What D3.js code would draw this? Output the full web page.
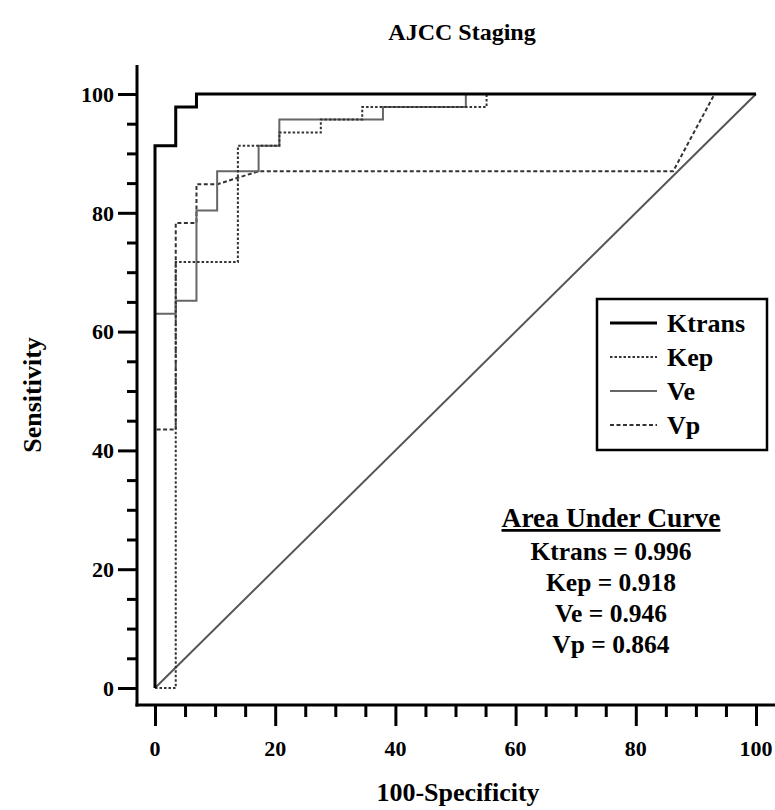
<!DOCTYPE html>
<html>
<head>
<meta charset="utf-8">
<script src="https://cdn.jsdelivr.net/npm/d3@7/dist/d3.min.js"></script>
<style>
	body { margin: 0; background: #fff; }
	text { font-family: "Liberation Serif", "Times New Roman", serif; font-weight: bold; fill: #000; }
</style>
</head>
<body>
<div id="chart"></div>
<script>
// ROC curves, x = 100-specificity, y = sensitivity
var ktransX = [0, 0, 3.45, 3.45, 6.9, 6.9, 100];
var ktransY = [0, 91.3, 91.3, 97.8, 97.8, 100, 100];

var kepX = [0, 3.45, 3.45, 13.79, 13.79, 20.69, 20.69, 27.59, 27.59, 34.48, 34.48, 55.17, 55.17, 100];
var kepY = [0, 0, 71.7, 71.7, 91.3, 91.3, 93.5, 93.5, 95.7, 95.7, 97.8, 97.8, 100, 100];

var veX = [0, 0, 3.45, 3.45, 6.9, 6.9, 10.34, 10.34, 17.24, 17.24, 20.69, 20.69, 37.93, 37.93, 51.72, 51.72, 100];
var veY = [0, 63.0, 63.0, 65.2, 65.2, 80.4, 80.4, 87.0, 87.0, 91.3, 91.3, 95.7, 95.7, 97.8, 97.8, 100, 100];

var vpX = [0, 0, 3.45, 3.45, 6.9, 6.9, 10.34, 17.24, 86.21, 93.10, 100];
var vpY = [0, 43.5, 43.5, 78.3, 78.3, 84.8, 84.8, 87.0, 87.0, 100, 100];

var refX = [0, 100];
var refY = [0, 100];

var seriesNames = ["Ktrans", "Kep", "Ve", "Vp"];
var aucValues = ["0.996", "0.918", "0.946", "0.864"];
var tickValues = [0, 20, 40, 60, 80, 100];

var width = 775,
	height = 810;

var styles = {
	Ktrans: { stroke: "#000", width: 3, dash: null },
	Kep: { stroke: "#333", width: 2, dash: "2.5,2" },
	Ve: { stroke: "#666", width: 2, dash: null },
	Vp: { stroke: "#333", width: 2, dash: "4,2.5" }
};

var x = d3.scaleLinear().domain([0, 100]).range([155, 756]);
var y = d3.scaleLinear().domain([0, 100]).range([688, 94]);

var svg = d3.select("#chart").append("svg")
	.attr("width", width)
	.attr("height", height);

function zip(xs, ys) {
	return xs.map(function(d, i) { return [d, ys[i]]; });
}

var line = d3.line()
	.x(function(d) { return x(d[0]); })
	.y(function(d) { return y(d[1]); });

// axes
var spineLeft = 137,
	spineBottom = 705;

var xAxis = d3.axisBottom(x)
	.tickValues(d3.range(0, 101, 5))
	.tickSize(0)
	.tickFormat("");

var gx = svg.append("g")
	.attr("transform", "translate(0," + spineBottom + ")")
	.call(xAxis);
gx.select(".domain").remove();
gx.selectAll(".tick line")
	.attr("y2", function(d) { return d % 20 === 0 ? 21 : 12; })
	.attr("stroke", "#000")
	.attr("stroke-width", 3);

gx.selectAll(".tick-label")
	.data(tickValues)
	.enter().append("text")
	.attr("x", function(d) { return x(d); })
	.attr("y", 51)
	.attr("text-anchor", "middle")
	.style("font-size", "22px")
	.text(function(d) { return d; });

var yAxis = d3.axisLeft(y)
	.tickValues(d3.range(0, 101, 5))
	.tickSize(0)
	.tickFormat("");

var gy = svg.append("g")
	.attr("transform", "translate(" + spineLeft + ",0)")
	.call(yAxis);
gy.select(".domain").remove();
gy.selectAll(".tick line")
	.attr("x2", function(d) { return d % 20 === 0 ? -19 : -10; })
	.attr("stroke", "#000")
	.attr("stroke-width", 3);

gy.selectAll(".tick-label")
	.data(tickValues)
	.enter().append("text")
	.attr("x", -23)
	.attr("y", function(d) { return y(d); })
	.attr("dy", "0.35em")
	.attr("text-anchor", "end")
	.style("font-size", "22px")
	.text(function(d) { return d; });

svg.append("line")
	.attr("x1", spineLeft).attr("x2", spineLeft)
	.attr("y1", 65).attr("y2", spineBottom + 1.5)
	.attr("stroke", "#000").attr("stroke-width", 3);
svg.append("line")
	.attr("x1", spineLeft - 1.5).attr("x2", width)
	.attr("y1", spineBottom).attr("y2", spineBottom)
	.attr("stroke", "#000").attr("stroke-width", 3);

// curves
svg.append("path")
	.attr("d", line(zip(refX, refY)))
	.attr("fill", "none")
	.attr("stroke", "#555")
	.attr("stroke-width", 2);

var curves = [
	{ name: "Vp", pts: zip(vpX, vpY) },
	{ name: "Ve", pts: zip(veX, veY) },
	{ name: "Kep", pts: zip(kepX, kepY) },
	{ name: "Ktrans", pts: zip(ktransX, ktransY) }
];

svg.selectAll(".curve")
	.data(curves)
	.enter().append("path")
	.attr("class", "curve")
	.attr("d", function(d) { return line(d.pts); })
	.attr("fill", "none")
	.attr("stroke", function(d) { return styles[d.name].stroke; })
	.attr("stroke-width", function(d) { return styles[d.name].width; })
	.attr("stroke-dasharray", function(d) { return styles[d.name].dash; });

// legend
var legend = svg.append("g");
legend.append("rect")
	.attr("x", 597).attr("y", 299)
	.attr("width", 170).attr("height", 151)
	.attr("fill", "#fff")
	.attr("stroke", "#000")
	.attr("stroke-width", 2.5);

var item = legend.selectAll(".item")
	.data(seriesNames)
	.enter().append("g")
	.attr("transform", function(d, i) { return "translate(0," + (323 + i * 34) + ")"; });

item.append("line")
	.attr("x1", 610).attr("x2", 657)
	.attr("stroke", function(d) { return styles[d].stroke; })
	.attr("stroke-width", function(d) { return styles[d].width; })
	.attr("stroke-dasharray", function(d) { return styles[d].dash; });

item.append("text")
	.attr("x", 667)
	.attr("y", 9)
	.style("font-size", "26px")
	.text(function(d) { return d; });

// area under curve
var aucX = 611;
svg.append("text")
	.attr("x", aucX).attr("y", 527)
	.attr("text-anchor", "middle")
	.style("font-size", "27.5px")
	.style("text-decoration", "underline")
	.text("Area Under Curve");

svg.selectAll(".auc")
	.data(seriesNames)
	.enter().append("text")
	.attr("x", aucX)
	.attr("y", function(d, i) { return 560 + i * 31; })
	.attr("text-anchor", "middle")
	.style("font-size", "25.5px")
	.text(function(d, i) { return d + " = " + aucValues[i]; });

// titles
svg.append("text")
	.attr("x", 462).attr("y", 40)
	.attr("text-anchor", "middle")
	.style("font-size", "24px")
	.text("AJCC Staging");

svg.append("text")
	.attr("x", 458).attr("y", 801)
	.attr("text-anchor", "middle")
	.style("font-size", "26px")
	.text("100-Specificity");

svg.append("text")
	.attr("transform", "translate(41,395) rotate(-90)")
	.attr("text-anchor", "middle")
	.style("font-size", "26px")
	.text("Sensitivity");
</script>
</body>
</html>
